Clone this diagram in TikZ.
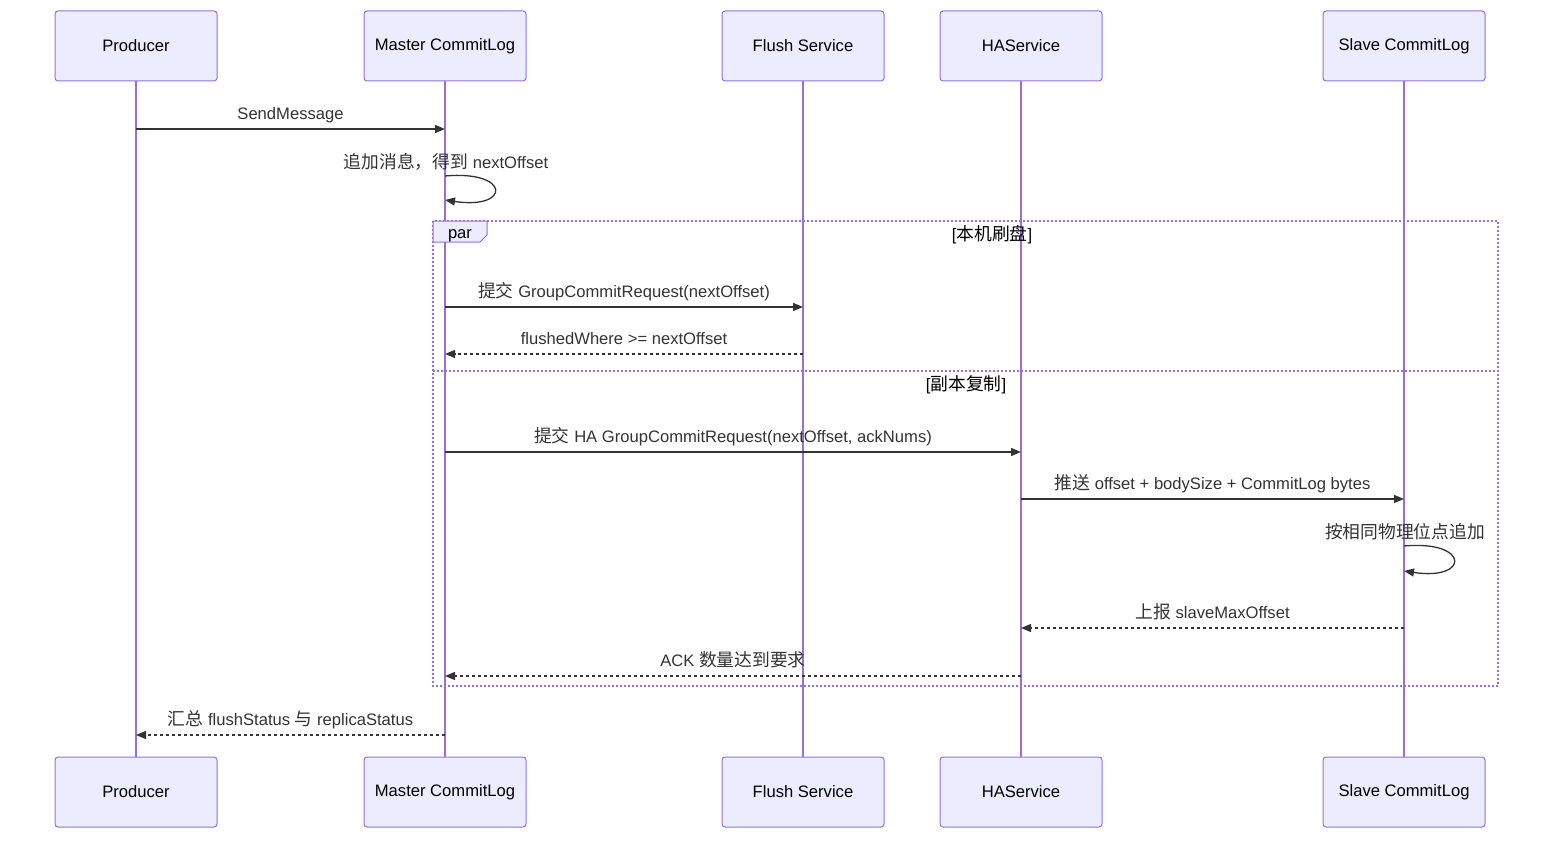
\documentclass[tikz,border=0pt]{standalone}
\usepackage{fontspec}
\setmainfont{Liberation Sans}
\newfontfamily\zhfont[Scale=1.07]{Noto Sans CJK SC}
\newcommand{\zh}[1]{{\zhfont #1}}
\usepackage{xcolor}
\usepackage{tikz}
\usetikzlibrary{arrows.meta,positioning,calc}

\definecolor{actorfill}{HTML}{ECECFF}
\definecolor{actorline}{HTML}{9370DB}
\definecolor{msgline}{HTML}{333333}

\begin{document}
\begin{tikzpicture}[x=1pt,y=-1pt,
  every node/.style={font=\fontsize{16.6}{19}\selectfont},
  actor/.style={draw=actorline, fill=actorfill, line width=1pt, rounded corners=3pt,
    minimum width=162pt, minimum height=70pt, text=black},
  life/.style={actorline, line width=2pt},
  msg/.style={draw=msgline, line width=1.3pt, -{Triangle[length=10pt,width=8pt]}},
  ret/.style={msg, dash pattern=on 3pt off 3pt},
  lbl/.style={text=msgline, midway, yshift=13.5pt, text height=12pt, text depth=3.5pt},
  frame/.style={actorline, line width=1.5pt, dash pattern=on 2pt off 2pt}]
  \useasboundingbox (0,0) rectangle (1568,848);

  % Message rows
  \coordinate (r1) at (0,129);
  \coordinate (r2a) at (0,176);
  \coordinate (r2b) at (0,200);
  \coordinate (r3) at (0,307);
  \coordinate (r4) at (0,354);
  \coordinate (r5) at (0,452);
  \coordinate (r6) at (0,499);
  \coordinate (r7a) at (0,546);
  \coordinate (r7b) at (0,571);
  \coordinate (r8) at (0,628);
  \coordinate (r9) at (0,676);
  \coordinate (r10) at (0,735);

  % Lifelines
  \foreach \n/\x in {prod/136,mcl/445,flush/803,ha/1021,scl/1404}
    \draw[life] (\x,81) -- (\x,757);

  % par frame
  \draw[frame] (433,221) rectangle (1498,686);
  \draw[frame] (433,371) -- (1498,371);
  \draw[actorline, fill=actorfill, line width=1pt]
    (433,221) -- (487,221) -- (487,235) -- (480,242) -- (433,242) -- cycle;
  \node (par) at (460,236) {par};
  \node (g1) at (992,235) {[\zh{本机刷盘}]};
  \node (g2) at (966,385) {[\zh{副本复制}]};

  % Actors (top)
  \node[actor] (prod) at (136,46) {Producer};
  \node[actor] (mcl) at (445,46) {Master CommitLog};
  \node[actor] (flush) at (803,46) {Flush Service};
  \node[actor] (ha) at (1021,46) {HAService};
  \node[actor] (scl) at (1404,46) {Slave CommitLog};
  % Actors (bottom)
  \node[actor] (prodB) at (136,792) {Producer};
  \node[actor] (mclB) at (445,792) {Master CommitLog};
  \node[actor] (flushB) at (803,792) {Flush Service};
  \node[actor] (haB) at (1021,792) {HAService};
  \node[actor] (sclB) at (1404,792) {Slave CommitLog};

  % Messages
  \draw[msg] (prod |- r1) -- (mcl |- r1) node[lbl] {SendMessage};
  \node[text=msgline] (self1) at (446,162) {\zh{追加消息，得到} nextOffset};
  \draw[msg] (mcl |- r2a) .. controls +(66,-6) and +(66,10) .. (mcl |- r2b);
  \draw[msg] (mcl |- r3) -- (flush |- r3) node[lbl] {\zh{提交} GroupCommitRequest(nextOffset)};
  \draw[ret] (flush |- r4) -- (mcl |- r4) node[lbl] {flushedWhere >= nextOffset};
  \draw[msg] (mcl |- r5) -- (ha |- r5) node[lbl] {\zh{提交} HA GroupCommitRequest(nextOffset, ackNums)};
  \draw[msg] (ha |- r6) -- (scl |- r6) node[lbl] {\zh{推送} offset + bodySize + CommitLog bytes};
  \node[text=msgline] (self2) at (1405,532) {\zh{按相同物理位点追加}};
  \draw[msg] (scl |- r7a) .. controls +(66,-6) and +(66,10) .. (scl |- r7b);
  \draw[ret] (scl |- r8) -- (ha |- r8) node[lbl] {\zh{上报} slaveMaxOffset};
  \draw[ret] (ha |- r9) -- (mcl |- r9) node[lbl] {ACK \zh{数量达到要求}};
  \draw[ret] (mcl |- r10) -- (prod |- r10) node[lbl] {\zh{汇总} flushStatus \zh{与} replicaStatus};
\end{tikzpicture}
\end{document}
